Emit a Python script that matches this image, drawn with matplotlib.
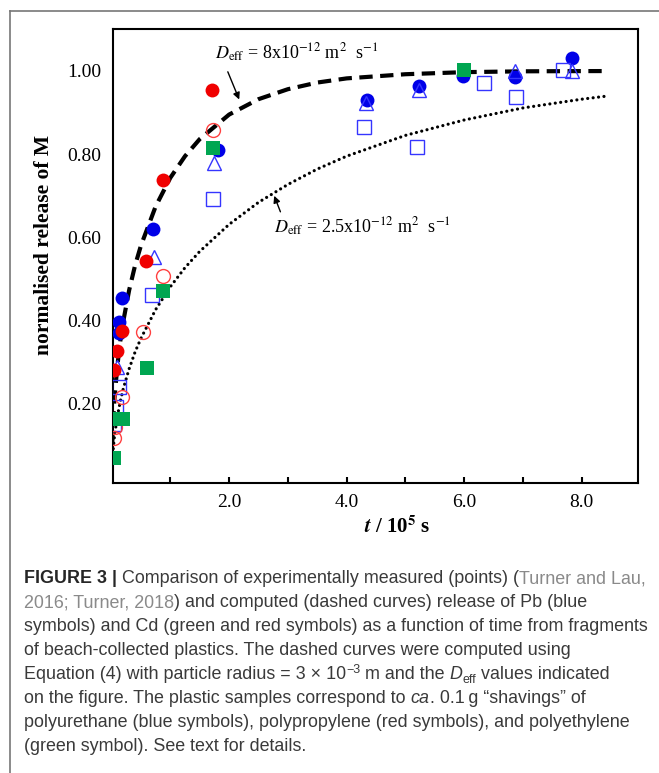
import matplotlib
matplotlib.use('Agg')
import matplotlib.pyplot as plt
from matplotlib.lines import Line2D

plt.rcParams['font.family'] = 'Liberation Serif'
plt.rcParams['mathtext.fontset'] = 'stix'

# --- data (t in 1e5 s, normalised release) ---
# Pb, polyurethane (blue)
pb_circ_t = [0.12, 0.13, 0.18, 0.71, 1.81, 4.34, 5.23, 5.98, 6.86, 7.83]
pb_circ_y = [0.369, 0.397, 0.453, 0.621, 0.811, 0.931, 0.964, 0.988, 0.986, 1.030]
pb_tri_t = [0.09, 0.72, 1.74, 4.33, 5.23, 6.86, 7.84]
pb_tri_y = [0.289, 0.553, 0.778, 0.922, 0.954, 1.000, 0.999]
pb_sq_t = [0.04, 0.08, 0.12, 0.68, 1.73, 4.30, 5.20, 6.34, 6.88, 7.68]
pb_sq_y = [0.151, 0.193, 0.239, 0.461, 0.692, 0.864, 0.816, 0.970, 0.938, 1.002]
# Cd, polypropylene (red)
cd_pp_t = [0.04, 0.09, 0.17, 0.58, 0.87, 1.71]
cd_pp_y = [0.281, 0.327, 0.375, 0.543, 0.738, 0.954]
cd_pp2_t = [0.04, 0.06, 0.17, 0.53, 0.87, 1.73]
cd_pp2_y = [0.117, 0.145, 0.217, 0.373, 0.507, 0.859]
# Cd, polyethylene (green)
cd_pe_t = [0.04, 0.09, 0.20, 0.60, 0.87, 1.72, 5.99]
cd_pe_y = [0.069, 0.162, 0.162, 0.285, 0.471, 0.814, 1.002]

# computed curves
fit_t = [0.0, 0.01, 0.02, 0.05, 0.1, 0.15, 0.2, 0.3, 0.4, 0.5, 0.75, 1.0, 1.25,
         1.5, 2.0, 2.5, 3.0, 3.5, 4.0, 5.0, 6.0, 7.0, 8.0, 8.4]
fit8_y = [0.0, 0.098, 0.137, 0.212, 0.292, 0.351, 0.398, 0.473, 0.532, 0.580,
          0.674, 0.743, 0.795, 0.836, 0.895, 0.932, 0.956, 0.972, 0.982, 0.992,
          0.997, 0.999, 0.9995, 0.9996]
fit25_y = [0.0, 0.056, 0.078, 0.122, 0.170, 0.206, 0.236, 0.284, 0.324, 0.357,
           0.426, 0.481, 0.527, 0.566, 0.631, 0.684, 0.727, 0.764, 0.795, 0.845,
           0.882, 0.911, 0.932, 0.939]

xticks = [1, 2, 3, 4, 5, 6, 7, 8]
xticklabels = ['', '2.0', '', '4.0', '', '6.0', '', '8.0']
yticks = [0.2, 0.4, 0.6, 0.8, 1.0]

W, H = 659, 773
fig = plt.figure(figsize=(W / 100, H / 100), dpi=100)
ax = fig.add_axes([112.7 / W, 1 - 482.7 / H, 525 / W, 453.4 / H])

ax.plot(fit_t, fit8_y, color='k', lw=3, dashes=(3.2, 1.8), zorder=2)
ax.plot(fit_t, fit25_y, color='k', lw=2.3, dashes=(0.01, 1.7),
        dash_capstyle='round', zorder=2)

ax.plot(pb_circ_t, pb_circ_y, 'o', color='#0000e8', ms=10, mew=0, zorder=3)
ax.plot(pb_tri_t, pb_tri_y, '^', mfc='none', mec='#3535ff', ms=10, mew=1, zorder=3)
ax.plot(pb_sq_t, pb_sq_y, 's', mfc='none', mec='#3535ff', ms=9.5, mew=1, zorder=3)
ax.plot(cd_pp_t, cd_pp_y, 'o', color='#f00000', ms=10, mew=0, zorder=4)
ax.plot(cd_pp2_t, cd_pp2_y, 'o', mfc='none', mec='#ff4040', ms=10, mew=1, zorder=4)
ax.plot(cd_pe_t, cd_pe_y, 's', color='#00a651', ms=9.5, mew=0, zorder=5)

ax.set_xlim(0.02, 8.95)
ax.set_ylim(0.01, 1.10)
ax.set_xticks(xticks)
ax.set_xticklabels(xticklabels)
ax.set_yticks(yticks)
ax.set_yticklabels(['%.2f' % v for v in yticks])
ax.tick_params(axis='x', direction='in', length=4, width=1.5, pad=8, labelsize=14)
ax.tick_params(axis='y', length=0, pad=8, labelsize=14)
for sp in ax.spines.values():
    sp.set_linewidth(1.5)

ax.text(-0.131, 0.525, 'normalised release of M', transform=ax.transAxes,
        rotation=90, fontsize=15.5, fontweight='bold', ha='center', va='center')
ax.text(0.5415, -0.098, r'$\mathbfit{t}$ / 10$^{\mathbf{5}}$ s', transform=ax.transAxes,
        fontsize=15, fontweight='bold', ha='center', va='center')

ax.text(1.76, 1.043, r'$D_{\mathrm{eff}}$ = 8x10$^{\mathrm{-12}}$ m$^{2}$  s$^{\mathrm{-1}}$',
        fontsize=13, va='center', ha='left')
ax.annotate('', xy=(2.19, 0.925), xytext=(1.96, 1.004),
            arrowprops=dict(arrowstyle='-|>', color='k', lw=1, mutation_scale=10))
ax.text(2.76, 0.625, r'$D_{\mathrm{eff}}$ = 2.5x10$^{\mathrm{-12}}$ m$^{2}$  s$^{\mathrm{-1}}$',
        fontsize=13, va='center', ha='left')
ax.annotate('', xy=(2.75, 0.706), xytext=(2.89, 0.655),
            arrowprops=dict(arrowstyle='-|>', color='k', lw=1, mutation_scale=10))

# frame around the figure panel
fig.add_artist(Line2D([9.5 / W, 9.5 / W], [1 - 11 / H, 0], color='#777777', lw=1.2))
fig.add_artist(Line2D([9.5 / W, 1], [1 - 11 / H, 1 - 11 / H], color='#777777', lw=1.2))

# caption
renderer = fig.canvas.get_renderer()
dark = '#3a3a3a'
grey = '#8a8a8a'
cap_font = 'Liberation Sans'


def meas(s, **kw):
    t = fig.text(0, 0, s, family=cap_font, **kw)
    w = t.get_window_extent(renderer).width
    t.remove()
    return w


def seg_width(s, **kw):
    return meas('|' + s + '|', **kw) - meas('||', **kw)


line3 = 'symbols) and Cd (green and red symbols) as a function of time from fragments'
fs = 12 * 624 / seg_width(line3, size=12)

caption = [
    [('FIGURE 3 |', dict(weight='bold', color='#262626')),
     (' Comparison of experimentally measured (points) (', {}),
     ('Turner and Lau,', dict(color=grey))],
    [('2016; Turner, 2018', dict(color=grey)),
     (') and computed (dashed curves) release of Pb (blue', {})],
    [(line3, {})],
    [('of beach-collected plastics. The dashed curves were computed using', {})],
    [('Equation (4) with particle radius = 3 \u00d7 10', {}),
     ('\u22123', dict(scale=0.7, dy=-6)),
     (' m and the ', {}),
     ('D', dict(style='italic')),
     ('eff', dict(scale=0.7, dy=4)),
     (' values indicated', {})],
    [('on the figure. The plastic samples correspond to ', {}),
     ('ca', dict(style='italic')),
     ('. 0.1\u2009g \u201cshavings\u201d of', {})],
    [('polyurethane (blue symbols), polypropylene (red symbols), and polyethylene', {})],
    [('(green symbol). See text for details.', {})],
]

for i, parts in enumerate(caption):
    x = 24.0
    yb = 583 + 24 * i
    for s, opts in parts:
        opts = dict(opts)
        scale = opts.pop('scale', 1.0)
        dy = opts.pop('dy', 0)
        color = opts.pop('color', dark)
        size = fs * scale
        lead = s[:len(s) - len(s.lstrip())]
        core = s.strip()
        x_core = x + (seg_width(lead, size=size, **opts) if lead else 0)
        fig.text(x_core / W, 1 - (yb + dy) / H, core, family=[cap_font, 'DejaVu Sans'],
                 size=size, color=color, va='baseline', ha='left', **opts)
        x += seg_width(s, size=size, **opts)

fig.savefig('out.png', dpi=100)
